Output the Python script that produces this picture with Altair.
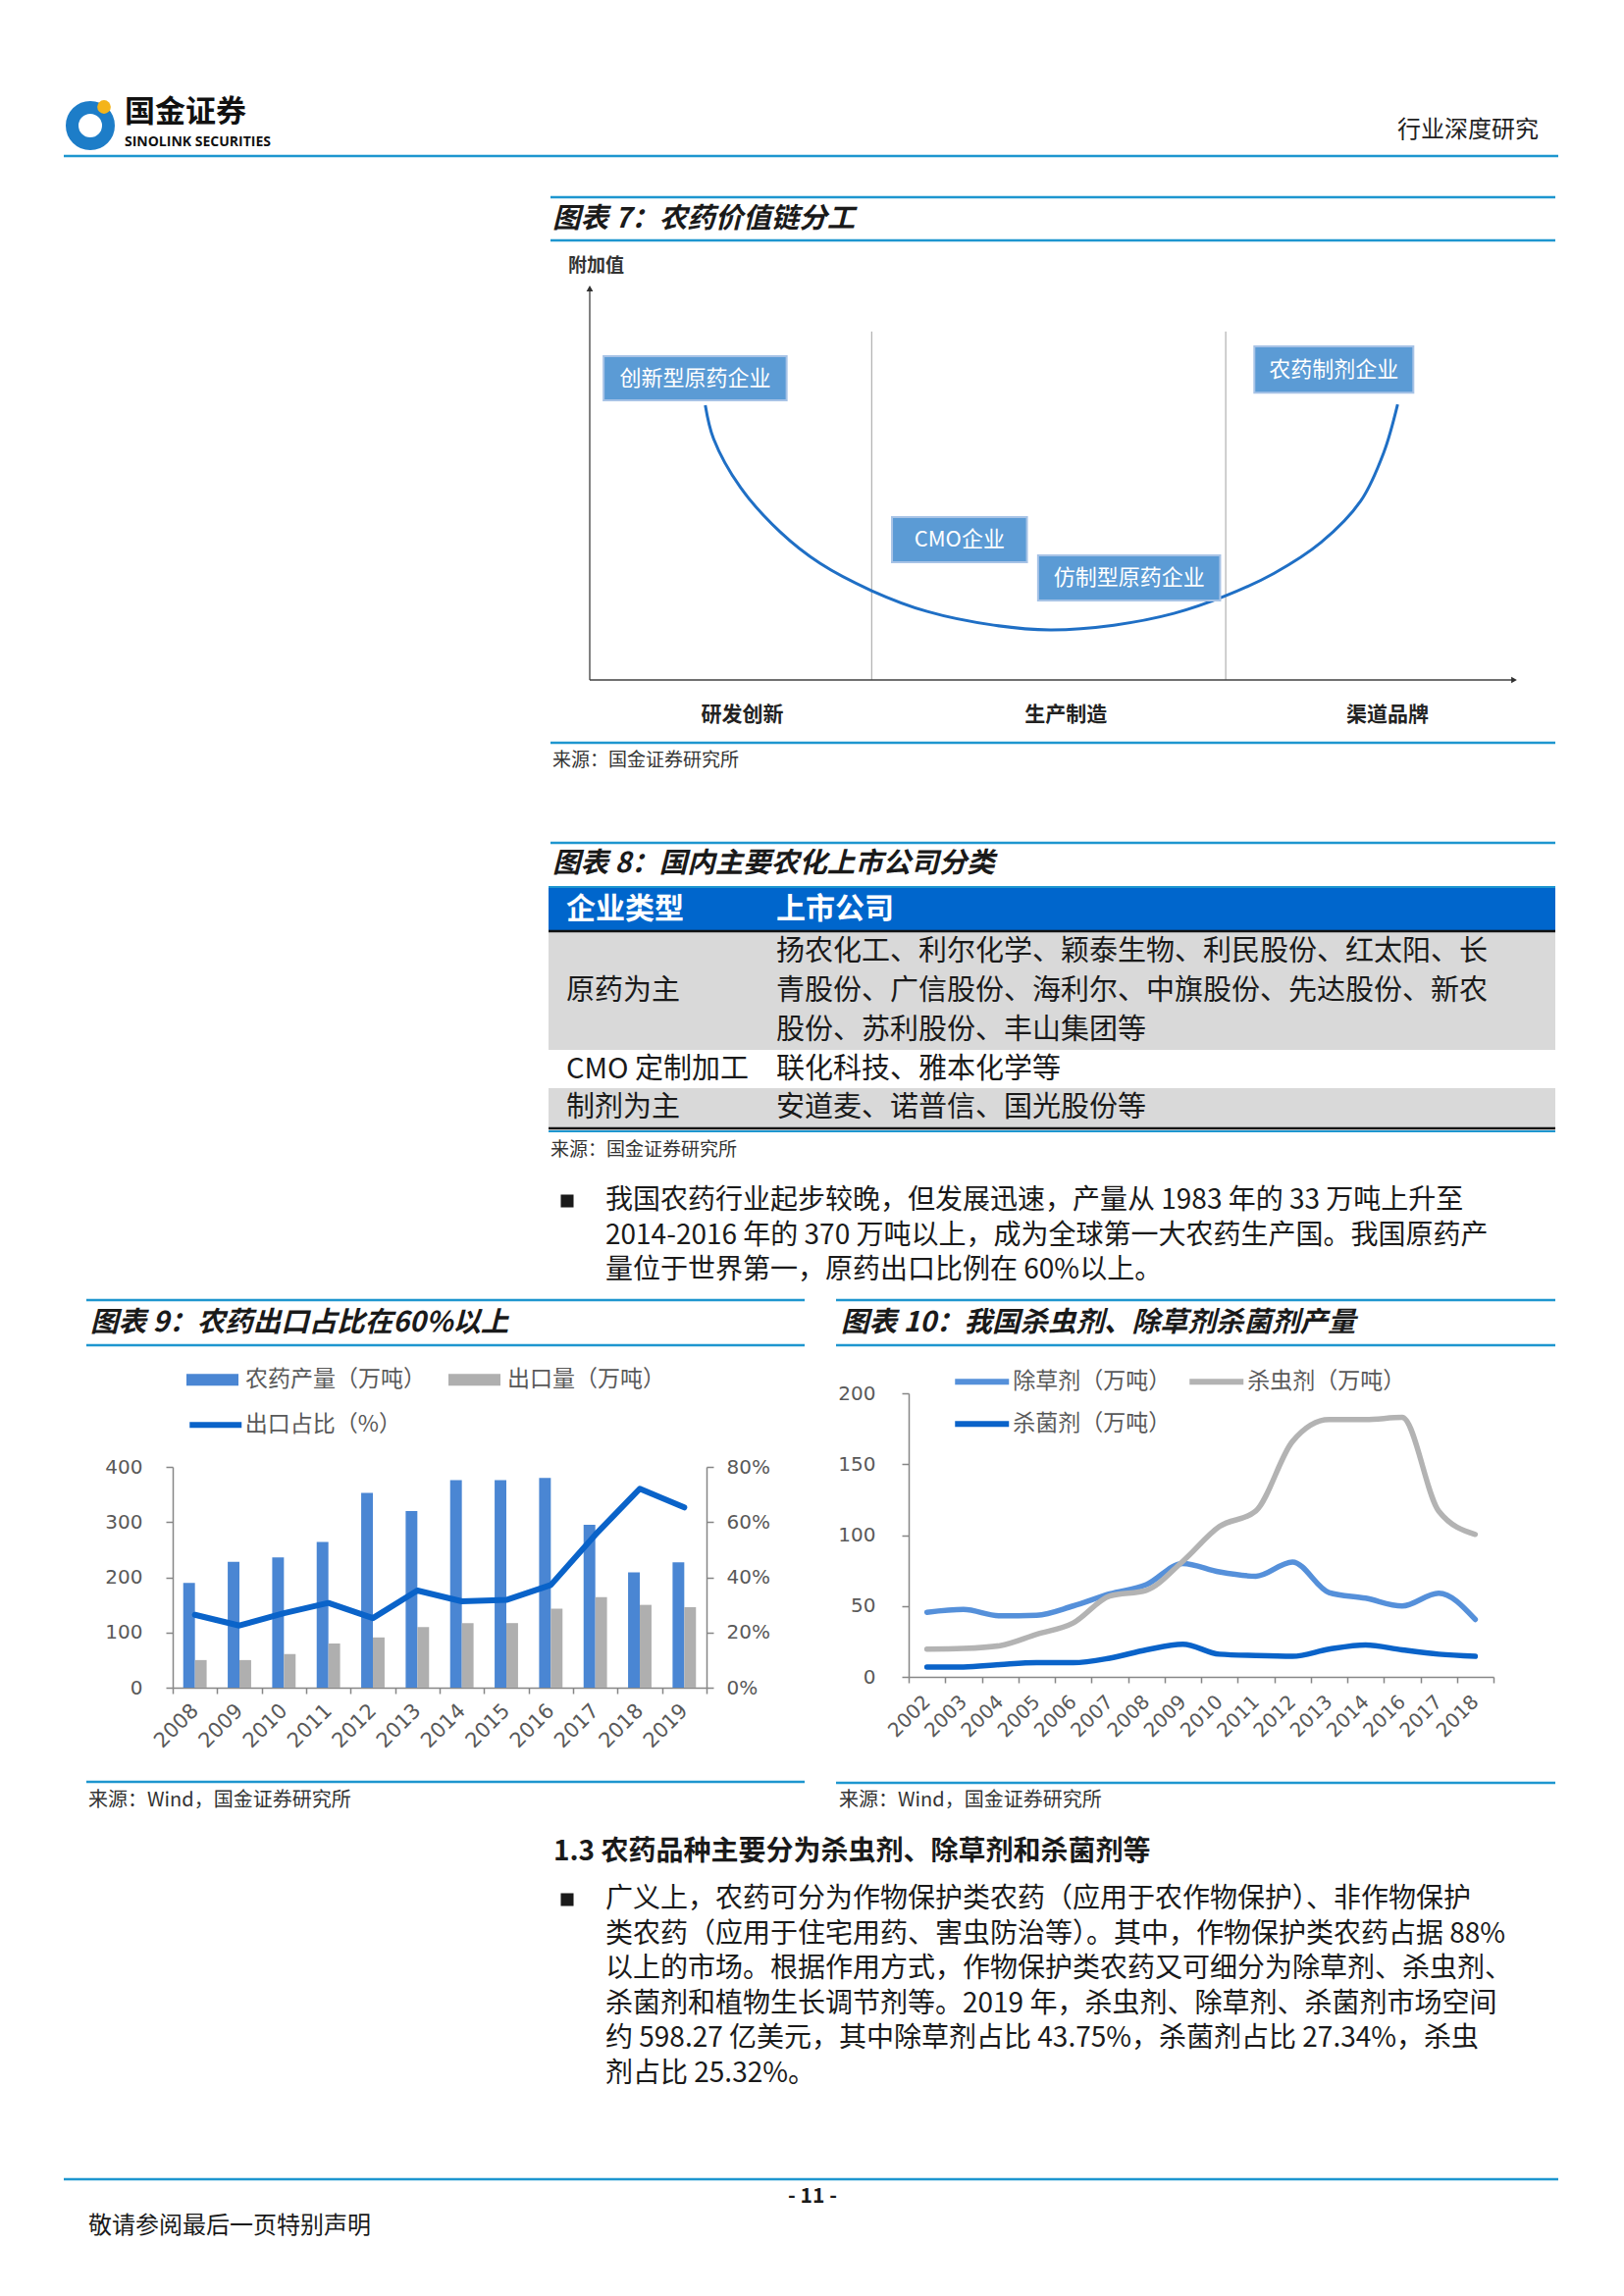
import altair as alt
import pandas as pd

# ---------------- data ----------------
YEARS_9 = ['2008', '2009', '2010', '2011', '2012', '2013', '2014', '2015', '2016', '2017', '2018', '2019']
OUTPUT_9 = [190, 228, 236, 264, 353, 320, 376, 376, 380, 295, 209, 227]
EXPORT_9 = [50, 50, 61, 80, 91, 110, 117, 117, 143, 164, 150, 146]
SHARE_9 = [26.4, 22.5, 27.0, 30.7, 25.2, 35.2, 31.3, 31.8, 37.2, 55.4, 72.1, 65.3]
SERIES_9 = ['农药产量（万吨）', '出口量（万吨）', '出口占比（%）']

YEARS_10 = ['2002', '2003', '2004', '2005', '2006', '2007', '2008', '2009', '2010',
            '2011', '2012', '2013', '2014', '2016', '2017', '2018']
HERBICIDE = [45.5, 47.5, 43, 43.5, 50, 58.5, 65, 80, 74, 71, 81, 59.5, 55.5, 50, 59, 40.5]
INSECTICIDE = [19.5, 20, 22, 30, 38, 57, 61, 81.5, 106, 117, 166, 181.5, 181.5, 183, 117, 100.5]
FUNGICIDE = [7, 7, 8.7, 10, 10, 13.2, 19, 23, 16, 15, 14.5, 19.5, 22.5, 19, 16, 14.5]
SERIES_10 = ['除草剂（万吨）', '杀虫剂（万吨）', '杀菌剂（万吨）']

# value-chain diagram (added value vs. stage, both on 0-100)
CURVE_X = [12.5, 13.4, 16.3, 20.6, 24.9, 30.5, 36.5, 43.7, 49.8, 56.7, 63.2, 68.8, 74.0, 79.1, 83.4, 85.9, 87.4]
CURVE_Y = [70.2, 61.6, 49.2, 37.8, 29.8, 22.8, 17.5, 14.0, 12.8, 14.0, 17.0, 21.5, 27.2, 35.1, 45.7, 58.1, 70.4]
BOX_LABELS = ['创新型原药企业', 'CMO企业', '仿制型原药企业', '农药制剂企业']
BOX_X0 = [1.5, 32.7, 48.5, 71.9]
BOX_X1 = [21.3, 47.3, 68.2, 89.1]
BOX_Y0 = [71.4, 30.1, 20.3, 73.4]
BOX_Y1 = [82.7, 41.6, 31.8, 85.2]
STAGES = ['研发创新', '生产制造', '渠道品牌']
STAGE_X = [16.5, 51.5, 86.3]
DIVIDERS = [30.5, 68.8]

TABLE_HEAD = ['企业类型', '上市公司']
TABLE_TYPE = ['原药为主', 'CMO 定制加工', '制剂为主']
TABLE_LIST = [
    ['扬农化工、利尔化学、颖泰生物、利民股份、红太阳、长',
     '青股份、广信股份、海利尔、中旗股份、先达股份、新农',
     '股份、苏利股份、丰山集团等'],
    ['联化科技、雅本化学等'],
    ['安道麦、诺普信、国光股份等'],
]

PARA_1 = ['我国农药行业起步较晚，但发展迅速，产量从 1983 年的 33 万吨上升至',
          '2014-2016 年的 370 万吨以上，成为全球第一大农药生产国。我国原药产',
          '量位于世界第一，原药出口比例在 60%以上。']
PARA_2 = ['广义上，农药可分为作物保护类农药（应用于农作物保护）、非作物保护',
          '类农药（应用于住宅用药、害虫防治等）。其中，作物保护类农药占据 88%',
          '以上的市场。根据作用方式，作物保护类农药又可细分为除草剂、杀虫剂、',
          '杀菌剂和植物生长调节剂等。2019 年，杀虫剂、除草剂、杀菌剂市场空间',
          '约 598.27 亿美元，其中除草剂占比 43.75%，杀菌剂占比 27.34%，杀虫',
          '剂占比 25.32%。']

# ---------------- page layout ----------------
W, H, M = 1639, 2324, 8
CJK = 'Noto Sans CJK SC'
NUM = 'DejaVu Sans'
RULE = '#1E96CF'
INK = '#1a1a1a'
SUB = '#595959'
AXIS_C = '#868686'
BAR_BLUE = '#4A86D3'
BAR_GREY = '#AFAFAF'
DARK_BLUE = '#0A63C9'
LIGHT_BLUE = '#5590DA'
LINE_GREY = '#B3B3B3'

ONE = pd.DataFrame({'k': [0]})


def at(v):
    return alt.value(v - M)


def label(s, x, y, size, align='left', weight='normal', style='normal', color=INK, font=CJK):
    return alt.Chart(ONE).mark_text(
        text=s, align=align, baseline='middle', font=font, fontSize=size,
        fontWeight=weight, fontStyle=style, color=color,
    ).encode(x=at(x), y=at(y))


def hrule(x1, x2, y, color=RULE, width=2.5):
    return alt.Chart(ONE).mark_rule(color=color, strokeWidth=width).encode(
        x=at(x1), x2=at(x2), y=at(y))


def fill(x1, x2, y1, y2, color):
    return alt.Chart(ONE).mark_rect(color=color).encode(
        x=at(x1), x2=at(x2), y=at(y1), y2=at(y2))


def axis(**kw):
    base = dict(title=None, grid=False, domainColor=AXIS_C, domainWidth=1.5,
                tickColor=AXIS_C, tickWidth=1.5, tickSize=7, labelFont=NUM,
                labelFontSize=20, labelColor=SUB)
    base.update(kw)
    return alt.Axis(**base)


layers = []

# ---- header ----
layers += [
    alt.Chart(ONE).mark_point(shape='circle', filled=False, size=1369, strokeWidth=13,
                              color='#1D7DC8', opacity=1).encode(x=at(92), y=at(128)),
    alt.Chart(ONE).mark_circle(size=190, color='#F4B41A', opacity=1).encode(x=at(106), y=at(109)),
    label('国金证券', 127, 115, 31, weight='bold', color='#111111'),
    label('SINOLINK SECURITIES', 127, 145, 14, weight='bold', color='#111111', font='Open Sans'),
    label('行业深度研究', 1568, 133, 24, align='right', color='#222222'),
    hrule(65, 1588, 159),
]

# ---- 图表7 ----
TITLE = 28.5
layers += [
    hrule(561, 1585, 201),
    label('图表 7：农药价值链分工', 563, 223, TITLE, weight='bold', style='italic'),
    hrule(561, 1585, 245),
    label('附加值', 579, 271, 19, weight='bold', color='#333333'),
]
DX = alt.Scale(domain=[0, 100], range=[601 - M, 1543 - M], nice=False, zero=False)
DY = alt.Scale(domain=[0, 100], range=[693 - M, 294 - M], nice=False, zero=False)
df_ax = pd.DataFrame({'x': [0, 0], 'x2': [0, 100], 'y': [0, 0], 'y2': [100, 0]})
df_tip = pd.DataFrame({'x': [0, 100], 'y': [100, 0], 'shape': ['triangle-up', 'triangle-right']})
df_div = pd.DataFrame({'x': DIVIDERS, 'y': [0, 0], 'y2': [89, 89]})
df_curve = pd.DataFrame({'x': CURVE_X, 'y': CURVE_Y})
df_box = pd.DataFrame({'label': BOX_LABELS, 'x0': BOX_X0, 'x1': BOX_X1, 'y0': BOX_Y0, 'y1': BOX_Y1})
df_box['cx'] = (df_box['x0'] + df_box['x1']) / 2
df_box['cy'] = (df_box['y0'] + df_box['y1']) / 2
df_stage = pd.DataFrame({'stage': STAGES, 'x': STAGE_X, 'y': [-9] * 3})

layers += [
    alt.Chart(df_div).mark_rule(color='#A0A0A0', strokeWidth=1).encode(
        x=alt.X('x:Q', scale=DX, axis=None), y=alt.Y('y:Q', scale=DY, axis=None), y2='y2:Q'),
    alt.Chart(df_ax).mark_rule(color='#404040', strokeWidth=1.3).encode(
        x=alt.X('x:Q', scale=DX, axis=None), x2='x2:Q',
        y=alt.Y('y:Q', scale=DY, axis=None), y2='y2:Q'),
    alt.Chart(df_tip).mark_point(filled=True, size=45, color='#303030', opacity=1).encode(
        x=alt.X('x:Q', scale=DX, axis=None), y=alt.Y('y:Q', scale=DY, axis=None),
        shape=alt.Shape('shape:N', scale=None)),
    alt.Chart(df_curve).mark_line(color='#1F6FC5', strokeWidth=3, interpolate='catmull-rom').encode(
        x=alt.X('x:Q', scale=DX, axis=None), y=alt.Y('y:Q', scale=DY, axis=None)),
    alt.Chart(df_box).mark_rect(fill='#5B9BD5', stroke='#A7C3E6', strokeWidth=2).encode(
        x=alt.X('x0:Q', scale=DX, axis=None), x2='x1:Q',
        y=alt.Y('y0:Q', scale=DY, axis=None), y2='y1:Q'),
    alt.Chart(df_box).mark_text(color='white', font=CJK, fontSize=22).encode(
        x=alt.X('cx:Q', scale=DX, axis=None), y=alt.Y('cy:Q', scale=DY, axis=None), text='label:N'),
    alt.Chart(df_stage).mark_text(color='#222222', font=CJK, fontSize=21, fontWeight='bold').encode(
        x=alt.X('x:Q', scale=DX, axis=None), y=alt.Y('y:Q', scale=DY, axis=None), text='stage:N'),
    hrule(561, 1585, 757),
    label('来源：国金证券研究所', 563, 775, 19, color='#333333'),
]

# ---- 图表8 (table) ----
ROW_TOP = [950, 1070, 1109]
ROW_BOT = [1070, 1109, 1149]
ROW_SHADE = ['#D9D9D9', '#FFFFFF', '#D9D9D9']
layers += [
    hrule(561, 1585, 859),
    label('图表 8：国内主要农化上市公司分类', 563, 880, TITLE, weight='bold', style='italic'),
    fill(559, 1585, 905, 948, '#0066CC'),
    hrule(559, 1585, 904, width=2),
]
for top, bot, shade in zip(ROW_TOP, ROW_BOT, ROW_SHADE):
    layers.append(fill(559, 1585, top, bot, shade))
layers += [
    hrule(559, 1585, 949, color='#111111', width=2.5),
    hrule(559, 1585, 1150, color='#111111', width=2.5),
    hrule(559, 1585, 1153, width=2),
    label(TABLE_HEAD[0], 577, 927, 30, weight='bold', color='white'),
    label(TABLE_HEAD[1], 791, 927, 30, weight='bold', color='white'),
]
for kind, lines, top, bot in zip(TABLE_TYPE, TABLE_LIST, ROW_TOP, ROW_BOT):
    mid = (top + bot) / 2
    layers.append(label(kind, 577, mid, 29))
    for i, s in enumerate(lines):
        layers.append(label(s, 791, mid + (i - (len(lines) - 1) / 2) * 40, 29))
layers.append(label('来源：国金证券研究所', 561, 1172, 19, color='#333333'))

# ---- paragraph 1 ----
BODY = 28
LEAD = 35.5
layers.append(alt.Chart(ONE).mark_square(size=170, color=INK, opacity=1).encode(x=at(578), y=at(1224)))
for i, s in enumerate(PARA_1):
    layers.append(label(s, 617, 1224 + i * LEAD, BODY))

# ---- 图表9 ----
layers += [
    hrule(88, 820, 1325),
    label('图表 9：农药出口占比在60%以上', 92, 1348, TITLE, weight='bold', style='italic'),
    hrule(88, 820, 1371),
    hrule(88, 820, 1816),
    label('来源：Wind，国金证券研究所', 90, 1835, 20, color='#333333'),
]
df9 = pd.DataFrame({
    'year': YEARS_9 * 2,
    'series': [SERIES_9[0]] * 12 + [SERIES_9[1]] * 12,
    'value': OUTPUT_9 + EXPORT_9,
})
df9s = pd.DataFrame({'year': YEARS_9, 'share': SHARE_9, 'name': [SERIES_9[2]] * 12})

bars9 = alt.Chart(df9).mark_bar().encode(
    x=alt.X('year:N', sort=YEARS_9,
            scale=alt.Scale(type='band', range=[176 - M, 720 - M], paddingInner=0, paddingOuter=0),
            axis=axis(orient='bottom', offset=1720 - M - H, tickBand='extent', tickSize=6,
                      labelAngle=-45, labelAlign='right', labelBaseline='middle',
                      labelPadding=14, labelFontSize=21)),
    xOffset=alt.XOffset('series:N', sort=SERIES_9[:2],
                        scale=alt.Scale(paddingInner=0, paddingOuter=0.9)),
    y=alt.Y('value:Q', scale=alt.Scale(domain=[0, 400], range=[1720 - M, 1495 - M], nice=False),
            axis=axis(orient='left', offset=-(176 - M), values=[0, 100, 200, 300, 400], labelPadding=24)),
    color=alt.Color('series:N', sort=SERIES_9[:2],
                    scale=alt.Scale(domain=SERIES_9[:2], range=[BAR_BLUE, BAR_GREY]),
                    legend=alt.Legend(title=None, orient='none', legendX=190 - M, legendY=1406 - M - 26.5,
                                      direction='horizontal', columns=2,
                                      symbolType='M-1,-0.23H1V0.23H-1Z', symbolSize=2809,
                                      symbolStrokeWidth=0, labelFont=CJK, labelFontSize=23,
                                      labelLimit=400, labelColor=SUB, labelOffset=7,
                                      columnPadding=23, padding=0)),
)
line9 = alt.Chart(df9s).mark_line(strokeWidth=6, strokeCap='round', strokeJoin='round').encode(
    x=alt.X('year:N', sort=YEARS_9, bandPosition=0.5,
            scale=alt.Scale(type='band', range=[176 - M, 720 - M], paddingInner=0, paddingOuter=0),
            axis=None),
    y=alt.Y('share:Q', scale=alt.Scale(domain=[0, 80], range=[1720 - M, 1495 - M], nice=False),
            axis=axis(orient='right', offset=720 - M - W, values=[0, 20, 40, 60, 80],
                      labelExpr="datum.value + '%'", labelPadding=13)),
    color=alt.Color('name:N', scale=alt.Scale(domain=[SERIES_9[2]], range=[DARK_BLUE]),
                    legend=alt.Legend(title=None, orient='none', legendX=190 - M, legendY=1449 - M - 13.25,
                                      symbolType='M-2,0H2', symbolSize=702, symbolStrokeWidth=6,
                                      symbolOffset=13.25, labelOffset=13.5, labelFont=CJK,
                                      labelFontSize=23, labelLimit=400, labelColor=SUB, padding=0)),
)
layers += [bars9, line9]

# ---- 图表10 ----
layers += [
    hrule(852, 1585, 1325),
    label('图表 10：我国杀虫剂、除草剂杀菌剂产量', 857, 1348, TITLE, weight='bold', style='italic'),
    hrule(852, 1585, 1371),
    hrule(852, 1585, 1817),
    label('来源：Wind，国金证券研究所', 855, 1835, 20, color='#333333'),
]
df10 = pd.DataFrame({
    'year': YEARS_10 * 3,
    'kind': [SERIES_10[0]] * 16 + [SERIES_10[1]] * 16 + [SERIES_10[2]] * 16,
    'value': HERBICIDE + INSECTICIDE + FUNGICIDE,
})
lines10 = alt.Chart(df10).mark_line(strokeWidth=5.5, strokeCap='round', interpolate='monotone').encode(
    x=alt.X('year:N', sort=YEARS_10, bandPosition=0.5,
            scale=alt.Scale(type='band', range=[926 - M, 1522 - M], paddingInner=0, paddingOuter=0),
            axis=axis(orient='bottom', offset=1709 - M - H, tickBand='extent', tickSize=6,
                      labelAngle=-45, labelAlign='right', labelBaseline='middle',
                      labelPadding=16, labelFontSize=20)),
    y=alt.Y('value:Q', scale=alt.Scale(domain=[0, 200], range=[1709 - M, 1420 - M], nice=False),
            axis=axis(orient='left', offset=-(926 - M), values=[0, 50, 100, 150, 200], labelPadding=27)),
    color=alt.Color('kind:N', sort=SERIES_10,
                    scale=alt.Scale(domain=SERIES_10, range=[LIGHT_BLUE, LINE_GREY, DARK_BLUE]),
                    legend=alt.Legend(title=None, orient='none', legendX=970 - M, legendY=1405 - M - 13.75,
                                      direction='horizontal', columns=2,
                                      symbolType='M-2,0H2', symbolSize=756, symbolStrokeWidth=6,
                                      symbolOffset=13.75, labelOffset=14.5, labelFont=CJK,
                                      labelFontSize=23, labelLimit=400, labelColor=SUB,
                                      columnPadding=6, rowPadding=14, padding=0)),
)
layers.append(lines10)

# ---- section 1.3 ----
layers.append(label('1.3 农药品种主要分为杀虫剂、除草剂和杀菌剂等', 564, 1888, 28, weight='bold'))
layers.append(alt.Chart(ONE).mark_square(size=170, color=INK, opacity=1).encode(x=at(578), y=at(1936)))
for i, s in enumerate(PARA_2):
    layers.append(label(s, 617, 1936 + i * LEAD, BODY))

# ---- footer ----
layers += [
    hrule(65, 1588, 2221),
    label('- 11 -', 828, 2239, 21, align='center', weight='bold'),
    label('敬请参阅最后一页特别声明', 90, 2269, 24),
]

page = alt.layer(*layers).properties(
    width=W, height=H, padding=0, background='white',
    autosize=alt.AutoSizeParams(type='none'),
).resolve_scale(
    x='independent', y='independent', color='independent', shape='independent'
).configure_view(strokeWidth=0)

page.save('out.html', embed_options={'renderer': 'svg', 'actions': False})
